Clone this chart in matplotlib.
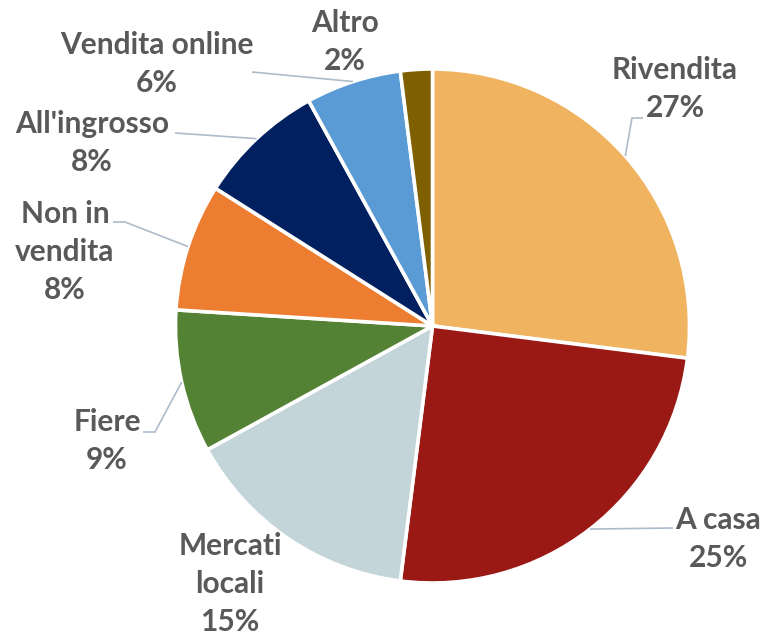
import numpy as np
import matplotlib
matplotlib.use("Agg")
import matplotlib.pyplot as plt

categories = ["Rivendita", "A casa", "Mercati\nlocali", "Fiere", "Non in\nvendita",
              "All'ingrosso", "Vendita online", "Altro"]
values = [27, 25, 15, 9, 8, 8, 6, 2]
colors = ["#F0B461", "#9B1915", "#C3D5D9", "#548235", "#ED7D31", "#002060", "#5B9BD5", "#7F6000"]

W, H = 766, 638
CX, CY, R = 432.5, 326, 257.0

# label centres (pixels) and leader elbow/end points (pixels)
label_px = [(675, 89), (718, 539), (230, 584), (107, 441), (65, 252), (92, 143), (157, 64), (345, 42)]
leader_px = [[(632, 118), (643, 118)], [(673, 528)], None, [(155, 432), (143, 432)],
             [(125, 222), (113, 222)], [(175, 133)], [(252, 72)], None]

def p2d(px, py):
    return ((px - CX) / R, (CY - py) / R)

fig = plt.figure(figsize=(W / 100, H / 100), dpi=100)
ax = fig.add_axes([0, 0, 1, 1])

wedges, _ = ax.pie(values, colors=colors, startangle=90, counterclock=False, radius=1.0,
                   center=(0, 0), frame=True,
                   wedgeprops=dict(edgecolor="white", linewidth=2.6))
ax.set_xlim(-CX / R, (W - CX) / R)
ax.set_ylim(-(H - CY) / R, CY / R)
ax.set_aspect("equal")
ax.axis("off")

for w, cat, v, lp, ld in zip(wedges, categories, values, label_px, leader_px):
    x, y = p2d(*lp)
    ax.text(x, y, f"{cat}\n{v}%", ha="center", va="center", fontsize=21.5,
            fontweight="bold", family=["Lato", "DejaVu Sans"], color="#595959",
            linespacing=1.45)
    if ld:
        mid = np.deg2rad((w.theta1 + w.theta2) / 2)
        pts = [(np.cos(mid), np.sin(mid))] + [p2d(*p) for p in ld]
        xs, ys = zip(*pts)
        ax.plot(xs, ys, color="#AEBBCB", lw=1.2, solid_capstyle="butt")

fig.savefig("out.png", dpi=100, facecolor="white")
